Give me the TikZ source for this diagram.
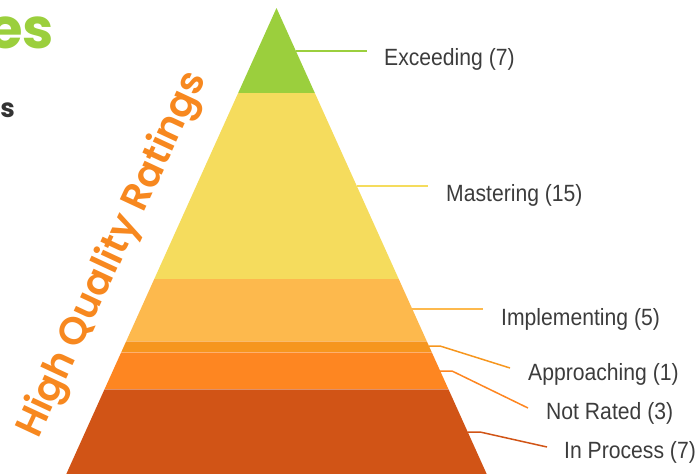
\documentclass[tikz,border=0pt]{standalone}
\usepackage{fontspec}
\setmainfont{Liberation Sans}
\newfontfamily\labfont{Liberation Sans}[FakeStretch=0.9]
\newfontfamily\popfam{Poppins}
\newfontfamily\popmed{Poppins}[UprightFont=* SemiBold]
\definecolor{cExc}{HTML}{9BCF3D}
\definecolor{cMas}{HTML}{F5DC5D}
\definecolor{cImp}{HTML}{FDB94D}
\definecolor{cApp}{HTML}{F6961E}
\definecolor{cNot}{HTML}{FE8621}
\definecolor{cInp}{HTML}{D15416}
\definecolor{cTxt}{HTML}{3C3C3C}
\definecolor{cHQ}{HTML}{F7881F}
\definecolor{cDark}{HTML}{333333}
\begin{document}
\begin{tikzpicture}[x=1pt,y=-1pt,
  lab/.style={font=\labfont\fontsize{23.5}{28}\selectfont, text=cTxt, anchor=base west, inner sep=0pt},
  leader/.style={line width=1.5pt},
  sep/.style={white, opacity=0.35, line width=0.8pt}]
\useasboundingbox (0,0) rectangle (697,474);
\clip (0,0) rectangle (697,474);
% pyramid
\coordinate (apex) at (276.5,8);
\coordinate (bl) at (63.6,480);
\coordinate (br) at (489.4,480);
\begin{scope}
  \clip (apex) -- (br) -- (bl) -- cycle;
  \fill[cExc] (0,0) rectangle (697,93);
  \fill[cMas] (0,93) rectangle (697,279);
  \fill[cImp] (0,279) rectangle (697,341);
  \fill[cApp] (0,341) rectangle (697,352);
  \fill[cNot] (0,352) rectangle (697,389);
  \fill[cInp] (0,389) rectangle (697,480);
  \draw[sep] (0,341) -- (697,341);
  \draw[sep] (0,352) -- (697,352);
  \draw[sep] (0,389) -- (697,389);
\end{scope}
% labels
\node[lab] (lexc) at (384,65) {Exceeding (7)};
\node[lab] (lmas) at (446,201.5) {Mastering (15)};
\node[lab] (limp) at (501,325) {Implementing (5)};
\node[lab] (lapp) at (528,380) {Approaching (1)};
\node[lab] (lnot) at (546,419) {Not Rated (3)};
\node[lab] (linp) at (564,458) {In Process (7)};
% leaders
\coordinate (exA) at (296,51);   \coordinate (exB) at (367,51);
\coordinate (maA) at (356.8,186);\coordinate (maB) at (428,186);
\coordinate (imA) at (412.3,309);\coordinate (imB) at (483,309);
\coordinate (apA) at (428.9,346);\coordinate (apM) at (440,346);\coordinate (apB) at (510,368);
\coordinate (noA) at (440.2,371);\coordinate (noM) at (452,371);\coordinate (noB) at (528,408);
\coordinate (inA) at (467.7,432);\coordinate (inM) at (480,432);\coordinate (inB) at (547,447);
\draw[leader, cExc] (exA) -- (exB);
\draw[leader, cMas] (maA) -- (maB);
\draw[leader, cImp] (imA) -- (imB);
\draw[leader, cApp] (apA) -- (apM) -- (apB);
\draw[leader, cNot] (noA) -- (noM) -- (noB);
\draw[leader, cInp] (inA) -- (inM) -- (inB);
% rotated title
\node[font=\popmed\fontsize{38.5}{40}\selectfont, text=cHQ, rotate=65, anchor=base west, inner sep=0pt] (hq) at (38,440) {High Quality Ratings};
% cropped heading fragments
\node[font=\popfam\bfseries\fontsize{56}{60}\selectfont, text=cExc, anchor=base east, inner sep=0pt] (t1) at (54,48) {es};
\node[font=\popfam\bfseries\fontsize{26}{30}\selectfont, text=cDark, anchor=base east, inner sep=0pt] (t2) at (15,117) {s};
\end{tikzpicture}
\end{document}
